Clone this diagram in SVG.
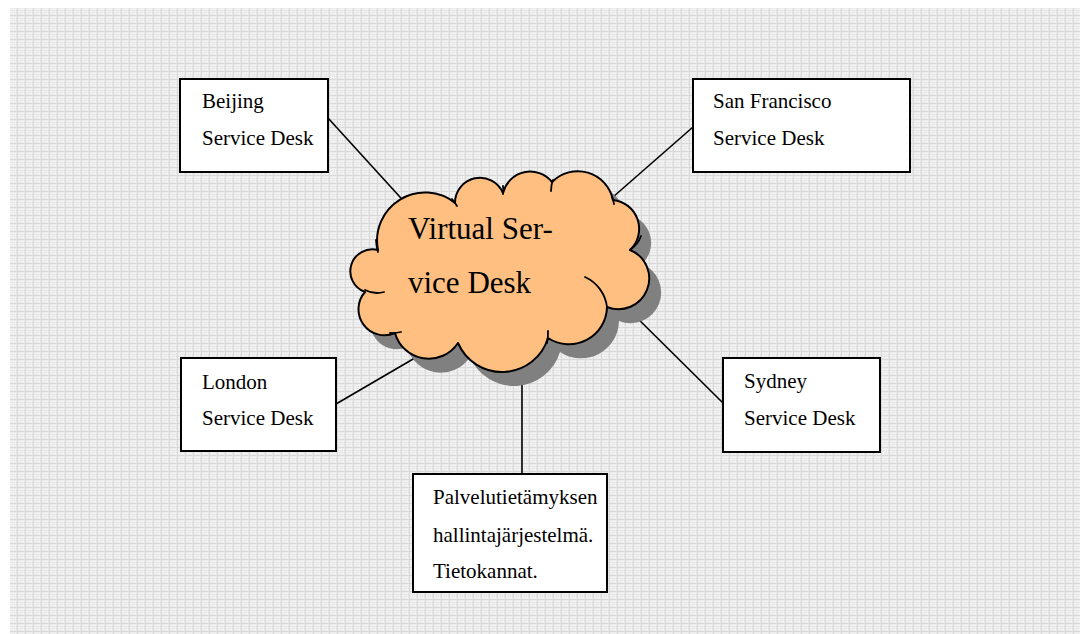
<svg xmlns="http://www.w3.org/2000/svg" width="1080" height="634" viewBox="0 0 1080 634">
  <defs>
    <!-- light checked paper texture for the page background -->
    <pattern id="grid" x="10" y="8" width="8" height="8" patternUnits="userSpaceOnUse">
      <rect width="8" height="8" fill="#ededed"/>
      <rect x="1" y="1" width="1" height="1" fill="#f6f6f6"/>
      <rect x="3" y="1" width="1" height="1" fill="#f6f6f6"/>
      <rect x="5" y="1" width="1" height="1" fill="#f6f6f6"/>
      <rect x="2" y="2" width="1" height="1" fill="#e2e2e2"/>
      <rect x="4" y="2" width="1" height="1" fill="#e2e2e2"/>
      <rect x="6" y="2" width="1" height="1" fill="#e2e2e2"/>
      <rect x="1" y="3" width="1" height="1" fill="#f6f6f6"/>
      <rect x="3" y="3" width="1" height="1" fill="#f6f6f6"/>
      <rect x="5" y="3" width="1" height="1" fill="#f6f6f6"/>
      <rect x="2" y="4" width="1" height="1" fill="#e2e2e2"/>
      <rect x="4" y="4" width="1" height="1" fill="#e2e2e2"/>
      <rect x="6" y="4" width="1" height="1" fill="#e2e2e2"/>
      <rect x="1" y="5" width="1" height="1" fill="#f6f6f6"/>
      <rect x="3" y="5" width="1" height="1" fill="#f6f6f6"/>
      <rect x="5" y="5" width="1" height="1" fill="#f6f6f6"/>
      <rect x="0" y="7" width="8" height="1" fill="#d9d9d9"/>
      <rect x="7" y="0" width="1" height="8" fill="#d9d9d9"/>
    </pattern>
    <path id="cloudShape" d="M 378 250
      A 48 48 0 0 1 455 203
      A 25 25 0 0 1 503 193
      A 28 28 0 0 1 552 182
      A 36 36 0 0 1 613 200
      A 29 29 0 0 1 630 250
      A 29 29 0 0 1 607 307
      A 38 38 0 0 1 548 338
      A 48 48 0 0 1 458 343
      A 35 35 0 0 1 395 333
      A 26 26 0 0 1 365 292
      A 22 22 0 0 1 378 250 Z"/>
  </defs>
  <style>
    .box { fill: #ffffff; stroke: #000000; stroke-width: 2; }
    .lbl { font-family: "Liberation Serif", "Times New Roman", serif; font-size: 21px; fill: #000000; }
    .big { font-family: "Liberation Serif", "Times New Roman", serif; font-size: 31px; fill: #000000; }
    .wire { stroke: #000000; stroke-width: 1.6; fill: none; }
    .inner { stroke: #000000; stroke-width: 1.8; fill: none; stroke-linecap: round; }
  </style>

  <rect x="10" y="8" width="1070" height="626" fill="url(#grid)"/>

  <!-- links from the hub to each desk -->
  <g id="connectors">
    <line class="wire" x1="328" y1="118" x2="410" y2="208"/>
    <line class="wire" x1="693" y1="127" x2="605" y2="204"/>
    <line class="wire" x1="336" y1="404" x2="420" y2="355"/>
    <line class="wire" x1="620" y1="301" x2="723" y2="403"/>
    <line class="wire" x1="522" y1="370" x2="522" y2="474"/>
  </g>

  <!-- central cloud with drop shadow -->
  <g id="cloud">
    <use href="#cloudShape" transform="translate(12,14)" fill="#808080"/>
    <use href="#cloudShape" fill="#ffbf80" stroke="#000000" stroke-width="2" stroke-linejoin="round"/>
    <path class="inner" d="M 585 277 A 38 38 0 0 1 607 307"/>
    <path class="inner" d="M 641 236 A 29 29 0 0 1 630 250"/>
    <path class="inner" d="M 548 331 A 48 48 0 0 1 547 343"/>
    <path class="inner" d="M 401 332 A 35 35 0 0 1 390 333"/>
    <path class="inner" d="M 384 292 A 26 26 0 0 1 365 290"/>
    <path class="inner" d="M 376 240 A 48 48 0 0 0 378 252"/>
    <path class="inner" d="M 452 199 A 48 48 0 0 1 457 206"/>
    <path class="inner" d="M 503 186 A 25 25 0 0 1 503 194"/>
    <path class="inner" d="M 551 191 A 28 28 0 0 1 553 180"/>
    <path class="inner" d="M 612 197 A 36 36 0 0 1 614 204"/>
    <text class="big" x="408" y="239">Virtual Ser-</text>
    <text class="big" x="408" y="293">vice Desk</text>
  </g>

  <g id="beijing">
    <rect class="box" x="180" y="79" width="148" height="93"/>
    <text class="lbl" x="202" y="108">Beijing</text>
    <text class="lbl" x="202" y="145">Service Desk</text>
  </g>

  <g id="san-francisco">
    <rect class="box" x="693" y="79" width="217" height="93"/>
    <text class="lbl" x="713" y="108">San Francisco</text>
    <text class="lbl" x="713" y="145">Service Desk</text>
  </g>

  <g id="london">
    <rect class="box" x="181" y="358" width="155" height="93"/>
    <text class="lbl" x="202" y="389">London</text>
    <text class="lbl" x="202" y="425">Service Desk</text>
  </g>

  <g id="sydney">
    <rect class="box" x="723" y="358" width="157" height="94"/>
    <text class="lbl" x="744" y="388">Sydney</text>
    <text class="lbl" x="744" y="425">Service Desk</text>
  </g>

  <g id="knowledge-base">
    <rect class="box" x="413" y="474" width="194" height="118"/>
    <text class="lbl" x="433" y="504">Palvelutietämyksen</text>
    <text class="lbl" x="433" y="542">hallintajärjestelmä.</text>
    <text class="lbl" x="433" y="578">Tietokannat.</text>
  </g>
</svg>
